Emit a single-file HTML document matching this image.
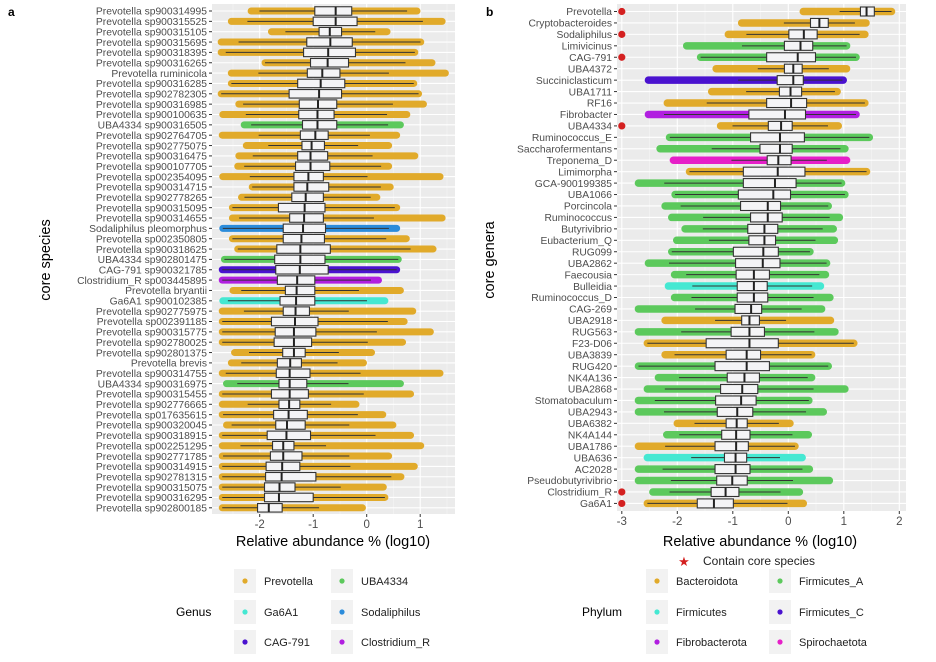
<!DOCTYPE html>
<html><head><meta charset="utf-8"><style>
body{margin:0;background:#fff;}
svg{display:block;font-family:"Liberation Sans",sans-serif;}
</style></head><body>
<svg id="c" width="936" height="662" viewBox="0 0 936 662"></svg>
<script>
const speciesLabels=["Prevotella sp900314995","Prevotella sp900315525","Prevotella sp900315105","Prevotella sp900315695","Prevotella sp900318395","Prevotella sp900316265","Prevotella ruminicola","Prevotella sp900316285","Prevotella sp902782305","Prevotella sp900316985","Prevotella sp900100635","UBA4334 sp900316505","Prevotella sp902764705","Prevotella sp902775075","Prevotella sp900316475","Prevotella sp900107705","Prevotella sp002354095","Prevotella sp900314715","Prevotella sp902778265","Prevotella sp900315095","Prevotella sp900314655","Sodaliphilus pleomorphus","Prevotella sp002350805","Prevotella sp900318625","UBA4334 sp902801475","CAG-791 sp900321785","Clostridium_R sp003445895","Prevotella bryantii","Ga6A1 sp900102385","Prevotella sp902775975","Prevotella sp002391185","Prevotella sp900315775","Prevotella sp902780025","Prevotella sp902801375","Prevotella brevis","Prevotella sp900314755","UBA4334 sp900316975","Prevotella sp900315455","Prevotella sp902776665","Prevotella sp017635615","Prevotella sp900320045","Prevotella sp900318915","Prevotella sp002251295","Prevotella sp902771785","Prevotella sp900314915","Prevotella sp902781315","Prevotella sp900315075","Prevotella sp900316295","Prevotella sp902800185"];
const speciesGroup=["P","P","P","P","P","P","P","P","P","P","P","U","P","P","P","P","P","P","P","P","P","S","P","P","U","C","R","P","G","P","P","P","P","P","P","P","U","P","P","P","P","P","P","P","P","P","P","P","P"];
const speciesMin=[-2.16,-2.53,-1.78,-2.72,-2.72,-1.9,-2.53,-2.53,-2.72,-2.39,-2.69,-2.29,-2.7,-2.25,-2.39,-2.41,-2.69,-2.14,-2.34,-2.51,-2.51,-2.69,-2.51,-2.41,-2.66,-2.7,-2.7,-2.5,-2.69,-2.7,-2.7,-2.7,-2.7,-2.47,-2.53,-2.7,-2.62,-2.7,-2.7,-2.7,-2.62,-2.7,-2.7,-2.7,-2.7,-2.7,-2.7,-2.7,-2.7];
const speciesMax=[0.94,1.41,0.38,1.01,0.9,1.22,1.47,0.88,0.97,1.06,0.75,0.63,0.56,0.41,0.9,0.41,1.37,0.44,0.19,0.56,1.41,0.56,0.74,1.24,0.59,0.56,0.22,0.63,0.34,0.86,0.7,1.19,0.67,0.09,-0.06,1.37,0.63,0.82,-0.2,0.3,0.49,0.82,1.01,0.41,0.89,0.64,0.31,0.34,-0.08];
const speciesQ1=[-0.97,-1.0,-0.89,-1.12,-1.18,-1.05,-1.11,-1.29,-1.45,-1.26,-1.27,-1.2,-1.24,-1.21,-1.29,-1.33,-1.36,-1.36,-1.4,-1.65,-1.44,-1.56,-1.56,-1.68,-1.72,-1.7,-1.67,-1.52,-1.62,-1.56,-1.78,-1.71,-1.73,-1.57,-1.67,-1.69,-1.64,-1.78,-1.64,-1.74,-1.7,-1.86,-1.76,-1.8,-1.88,-1.89,-1.91,-1.91,-2.04];
const speciesMed=[-0.58,-0.58,-0.69,-0.68,-0.72,-0.73,-0.83,-0.86,-0.89,-0.91,-0.92,-0.92,-0.96,-1.03,-1.05,-1.05,-1.09,-1.11,-1.14,-1.16,-1.17,-1.19,-1.22,-1.24,-1.24,-1.25,-1.3,-1.31,-1.32,-1.33,-1.34,-1.36,-1.36,-1.36,-1.43,-1.44,-1.44,-1.44,-1.45,-1.46,-1.49,-1.5,-1.56,-1.56,-1.58,-1.59,-1.63,-1.64,-1.83];
const speciesQ3=[-0.28,-0.18,-0.47,-0.27,-0.21,-0.34,-0.5,-0.41,-0.47,-0.56,-0.61,-0.56,-0.72,-0.79,-0.73,-0.69,-0.81,-0.71,-0.81,-0.78,-0.81,-0.77,-0.79,-0.68,-0.78,-0.72,-0.97,-0.97,-0.97,-1.07,-0.91,-0.95,-1.03,-1.15,-1.22,-1.06,-1.12,-1.09,-1.25,-1.11,-1.15,-1.05,-1.36,-1.21,-1.25,-0.95,-1.34,-1.0,-1.58];

const generaLabels=["Prevotella","Cryptobacteroides","Sodaliphilus","Limivicinus","CAG-791","UBA4372","Succiniclasticum","UBA1711","RF16","Fibrobacter","UBA4334","Ruminococcus_E","Saccharofermentans","Treponema_D","Limimorpha","GCA-900199385","UBA1066","Porcincola","Ruminococcus","Butyrivibrio","Eubacterium_Q","RUG099","UBA2862","Faecousia","Bulleidia","Ruminococcus_D","CAG-269","UBA2918","RUG563","F23-D06","UBA3839","RUG420","NK4A136","UBA2868","Stomatobaculum","UBA2943","UBA6382","NK4A144","UBA1786","UBA636","AC2028","Pseudobutyrivibrio","Clostridium_R","Ga6A1"];
const generaPhylum=["B","B","B","A","A","B","C","B","B","F","B","A","A","S","B","A","A","A","A","A","A","A","A","A","M","A","A","B","A","B","B","A","A","A","A","A","B","A","B","M","A","A","A","B"];
const generaCore=[1,0,1,0,1,0,0,0,0,0,1,0,0,0,0,0,0,0,0,0,0,0,0,0,0,0,0,0,0,0,0,0,0,0,0,0,0,0,0,0,0,0,1,1];
const generaMin=[0.27,-0.84,-1.08,-1.83,-1.58,-1.3,-2.52,-1.38,-2.18,-2.52,-1.22,-2.14,-2.31,-2.07,-1.78,-2.7,-2.04,-2.22,-2.1,-1.86,-2.01,-2.1,-2.52,-2.05,-2.16,-2.05,-2.7,-2.22,-2.7,-2.54,-2.22,-2.7,-2.34,-2.54,-2.7,-2.7,-2.0,-2.19,-2.7,-2.54,-2.7,-2.7,-2.44,-2.54];
const generaMax=[1.86,1.4,1.38,1.05,1.22,1.05,0.99,0.88,1.38,1.22,0.9,1.46,1.02,1.05,1.41,0.96,1.02,0.72,0.92,0.81,0.83,0.39,0.69,0.67,0.58,0.75,0.6,0.76,0.84,1.18,0.42,0.72,0.42,1.02,0.37,0.63,0.03,0.36,0.12,0.25,0.38,0.74,0.2,0.27];
const generaQ1=[1.3,0.4,0.01,-0.07,-0.39,-0.07,-0.2,-0.16,-0.39,-0.71,-0.36,-0.68,-0.51,-0.38,-0.81,-0.81,-0.9,-0.86,-0.68,-0.73,-0.71,-0.99,-0.95,-0.94,-0.92,-0.92,-0.96,-0.84,-1.03,-1.48,-1.12,-1.32,-1.1,-1.22,-1.31,-1.28,-1.12,-1.2,-1.32,-1.15,-1.32,-1.29,-1.39,-1.64];
const generaMed=[1.41,0.56,0.28,0.22,0.17,0.09,0.09,0.04,0.05,-0.06,-0.13,-0.15,-0.15,-0.18,-0.19,-0.24,-0.27,-0.37,-0.37,-0.43,-0.43,-0.45,-0.46,-0.62,-0.62,-0.62,-0.67,-0.7,-0.7,-0.7,-0.75,-0.75,-0.79,-0.83,-0.85,-0.92,-0.93,-0.94,-0.94,-0.95,-0.95,-1.01,-1.13,-1.34];
const generaQ3=[1.55,0.72,0.52,0.44,0.49,0.25,0.27,0.24,0.33,0.31,0.07,0.29,0.07,0.05,0.3,0.14,0.04,-0.14,-0.11,-0.19,-0.23,-0.18,-0.15,-0.34,-0.38,-0.37,-0.48,-0.52,-0.43,-0.18,-0.5,-0.34,-0.52,-0.55,-0.58,-0.64,-0.74,-0.69,-0.72,-0.75,-0.69,-0.74,-0.89,-0.99];

const leftTicks=[-2,-1,0,1], rightTicks=[-3,-2,-1,0,1,2];
const genusColors={P:"#E1AA2A",U:"#5CC95C",S:"#2B8CDB",C:"#4A12CF",R:"#B11FE0",G:"#45E8D2"};
const phylumColors={B:"#E1AA2A",A:"#5CC95C",C:"#4A12CF",F:"#B11FE0",S:"#E61FC8",M:"#45E8D2"};

const NS="http://www.w3.org/2000/svg", svg=document.getElementById("c");
function mk(tag,attrs,parent,text){const e=document.createElementNS(NS,tag);for(const k in attrs)e.setAttribute(k,attrs[k]);if(text!==undefined)e.textContent=text;(parent||svg).appendChild(e);return e;}

function panel(o){
  const g=mk("g",{});
  
  
  const sx=v=>o.x0px+(v-o.x0v)*o.ppu;
  const sy=i=>o.y0+i*o.dy;
  const bg=mk("rect",{x:o.L,y:o.T,width:o.R-o.L,height:o.B-o.T,fill:"#EBEBEB"},g);
  
  for(let k=0;k<o.ticks.length;k++){const t=o.ticks[k];
    const m=t+0.5; if(sx(m)<o.R) mk("line",{x1:sx(m),x2:sx(m),y1:o.T,y2:o.B,stroke:"#F5F5F5","stroke-width":0.6},g);
    if(k===0&&sx(t-0.5)>o.L) mk("line",{x1:sx(t-0.5),x2:sx(t-0.5),y1:o.T,y2:o.B,stroke:"#F5F5F5","stroke-width":0.6},g);
    mk("line",{x1:sx(t),x2:sx(t),y1:o.T,y2:o.B,stroke:"#fff","stroke-width":1.1},g);
  }
  const n=o.labels.length;
  for(let i=0;i<n;i++) mk("line",{x1:o.L,x2:o.R,y1:sy(i),y2:sy(i),stroke:"#fff","stroke-width":1.1},g);
  for(let i=0;i<n;i++){
    const y=sy(i), col=o.colors[i];
    const band=mk("line",{x1:sx(o.min[i]),x2:sx(o.max[i]),y1:y,y2:y,stroke:col,"stroke-width":o.bw,"stroke-linecap":"round"},g);
    
    const iqr=o.q3[i]-o.q1[i];
    const wl=Math.max(o.min[i],o.q1[i]-1.5*iqr), wh=Math.min(o.max[i],o.q3[i]+1.5*iqr);
    const wk=mk("line",{x1:sx(wl),x2:sx(wh),y1:y,y2:y,stroke:"#333","stroke-width":1},g);
    
    const bx=mk("rect",{x:sx(o.q1[i]),y:y-o.bh/2,width:sx(o.q3[i])-sx(o.q1[i]),height:o.bh,fill:"#F4F4F6",stroke:"#333","stroke-width":1.1},g);
    
    mk("line",{x1:sx(o.med[i]),x2:sx(o.med[i]),y1:y-o.bh/2,y2:y+o.bh/2,stroke:"#222","stroke-width":2},g);
    const lb=mk("text",{x:o.L-5,y:y+3.7,"text-anchor":"end","font-size":10.3,fill:"#4D4D4D"},g,o.labels[i]);
    
    mk("line",{x1:o.L-3,x2:o.L,y1:y,y2:y,stroke:"#333","stroke-width":1},g);
    if(o.core&&o.core[i]){const s=mk("circle",{cx:sx(-3),cy:y,r:3.6,fill:"#D42020"},g);
      }
  }
  for(const t of o.ticks){
    mk("line",{x1:sx(t),x2:sx(t),y1:o.B,y2:o.B+3,stroke:"#333","stroke-width":1},g);
    const tl=mk("text",{x:sx(t),y:o.B+14,"text-anchor":"middle","font-size":11.5,fill:"#4D4D4D"},g,String(t));
    
  }
  const xt=mk("text",{x:o.xtx,y:546,"text-anchor":"middle","font-size":14.5,fill:"#000"},g,"Relative abundance % (log10)");
  
  const yt=mk("text",{x:0,y:0,transform:`translate(${o.ytx},260) rotate(-90)`,"text-anchor":"middle","font-size":14.5,fill:"#000"},g,o.ytitle);
  
}

panel({name:"panel-a",L:212,R:455,T:4,B:514,x0v:0,x0px:366.7,ppu:53.5,y0:11,dy:10.35,bw:7,bh:8.5,
  labels:speciesLabels,colors:speciesGroup.map(g=>genusColors[g]),min:speciesMin,max:speciesMax,q1:speciesQ1,med:speciesMed,q3:speciesQ3,
  ticks:leftTicks,xtx:333,ytx:50,ytitle:"core species"});
panel({name:"panel-b",L:617,R:906,T:4,B:511,x0v:0,x0px:788.3,ppu:55.5,y0:11.5,dy:11.44,bw:7.5,bh:9,
  labels:generaLabels,colors:generaPhylum.map(g=>phylumColors[g]),min:generaMin,max:generaMax,q1:generaQ1,med:generaMed,q3:generaQ3,core:generaCore,
  ticks:rightTicks,xtx:760,ytx:494,ytitle:"core genera"});

let t=mk("text",{x:8,y:16,"font-size":12,"font-weight":"bold"},svg,"a");
t=mk("text",{x:486,y:16,"font-size":12,"font-weight":"bold"},svg,"b");

function legend(title,tx,items,cols,rows){
  const g=mk("g",{});
  
  
  mk("text",{x:tx,y:rows[1]+4,"font-size":12,fill:"#000"},g,title);
  items.forEach((it,k)=>{const c=cols[k%2], y=rows[Math.floor(k/2)];
    const e=mk("g",{},g);
    
    
    mk("rect",{x:c-11,y:y-12,width:22,height:24,fill:"#F2F2F2"},e);
    mk("circle",{cx:c,cy:y,r:2.6,fill:it[1]},e);
    mk("text",{x:c+19,y:y+4,"font-size":11,fill:"#222"},e,it[0]);
  });
}
legend("Genus",176,[["Prevotella",genusColors.P],["UBA4334",genusColors.U],["Ga6A1",genusColors.G],["Sodaliphilus",genusColors.S],["CAG-791",genusColors.C],["Clostridium_R",genusColors.R]],[245,342],[581,612,642]);
legend("Phylum",582,[["Bacteroidota",phylumColors.B],["Firmicutes_A",phylumColors.A],["Firmicutes",phylumColors.M],["Firmicutes_C",phylumColors.C],["Fibrobacterota",phylumColors.F],["Spirochaetota",phylumColors.S]],[657,780],[581,612,642]);
t=mk("text",{x:684,y:566,"font-size":13,fill:"#D42020","text-anchor":"middle"},svg,"★");
t=mk("text",{x:703,y:565,"font-size":12,fill:"#222"},svg,"Contain core species");
</script>
</body></html>
